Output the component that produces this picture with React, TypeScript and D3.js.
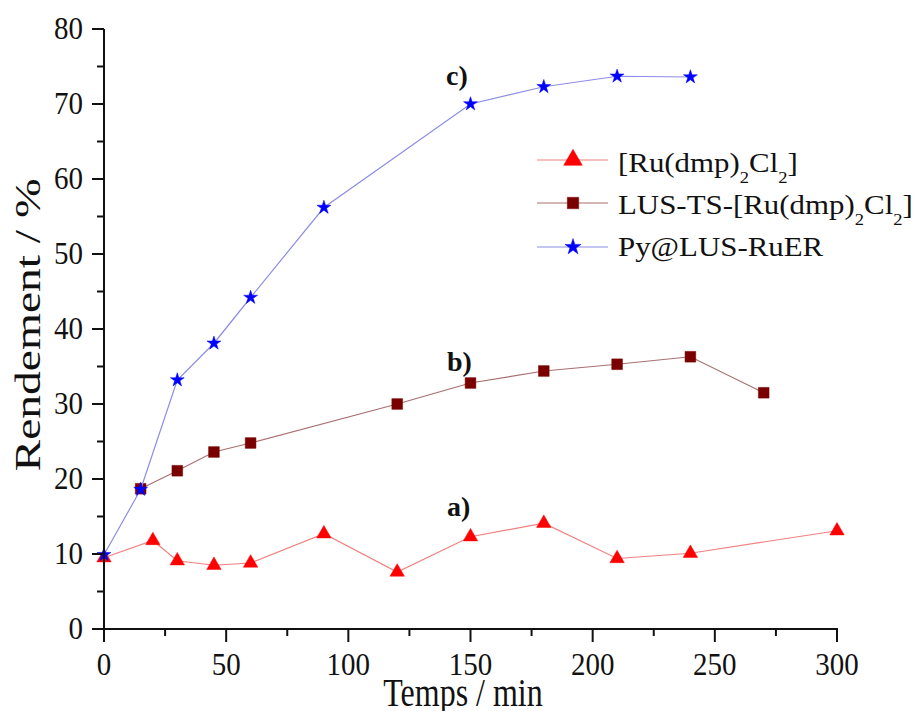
import React from "react";
import * as d3 from "d3";

const timesA = [0, 20, 30, 45, 60, 90, 120, 150, 180, 210, 240, 300];
const yieldA = [9.5, 11.8, 9.1, 8.5, 8.8, 12.7, 7.6, 12.3, 14.1, 9.4, 10.1, 13.1];
const timesB = [15, 30, 45, 60, 120, 150, 180, 210, 240, 270];
const yieldB = [18.7, 21.1, 23.6, 24.8, 30.0, 32.8, 34.4, 35.3, 36.3, 31.5];
const timesC = [0, 15, 30, 45, 60, 90, 150, 180, 210, 240];
const yieldC = [9.9, 18.6, 33.2, 38.1, 44.2, 56.2, 70.0, 72.3, 73.7, 73.6];
const xTicks = [0, 50, 100, 150, 200, 250, 300];
const yTicks = [0, 10, 20, 30, 40, 50, 60, 70, 80];
const seriesNames = ["a", "b", "c"];
const annotations = ["a)", "b)", "c)"];

const W = 917, H = 711;
const FONT = "'Liberation Serif', 'Times New Roman', serif";

const x = d3.scaleLinear().domain([0, 300]).range([104, 837]);
const y = d3.scaleLinear().domain([0, 80]).range([629, 29]);

const styles = {
  a: { line: "#f08080", fill: "#ff0000", sym: d3.symbolTriangle, size: 90 },
  b: { line: "#a87070", fill: "#7a0000", sym: d3.symbolSquare, size: 115 },
  c: { line: "#8c8ce6", fill: "#0000ff", sym: d3.symbolStar, size: 60 },
};

function ST({ x: tx, y: ty, sx = 1, sy = 1, children, ...rest }: any) {
  return (
    <text transform={`translate(${tx},${ty}) scale(${sx},${sy})`} fontFamily={FONT} {...rest}>
      {children}
    </text>
  );
}

export default function App() {
  const data: Record<string, { t: number[]; v: number[] }> = {
    a: { t: timesA, v: yieldA },
    b: { t: timesB, v: yieldB },
    c: { t: timesC, v: yieldC },
  };
  const line = d3.line<[number, number]>().x((d) => x(d[0])).y((d) => y(d[1]));
  const minorY = d3.range(5, 80, 10);
  const minorX = d3.range(25, 300, 50);

  const legendRows = [
    { key: "a", cy: 160 },
    { key: "b", cy: 203 },
    { key: "c", cy: 247 },
  ];

  return (
    <svg width={W} height={H} style={{ position: "absolute", left: 0, top: 0, background: "#fff" }}>
      <rect width={W} height={H} fill="#fff" />
      {seriesNames.map((k) => {
        const s = (styles as any)[k];
        const pts: [number, number][] = data[k].t.map((t, i) => [t, data[k].v[i]]);
        return (
          <g key={k}>
            <path d={line(pts) || ""} fill="none" stroke={s.line} strokeWidth={1.2} />
            {pts.map((p, i) => (
              <path
                key={i}
                d={d3.symbol(s.sym, s.size)() || ""}
                transform={`translate(${x(p[0])},${y(p[1])})`}
                fill={s.fill}
                stroke={s.fill}
                strokeWidth={0.5}
              />
            ))}
          </g>
        );
      })}

      <line x1={x(0)} x2={x(0)} y1={y(0) + 1} y2={y(80)} stroke="#111" strokeWidth={2} />
      <line x1={x(0) - 1} x2={x(300) + 1} y1={y(0)} y2={y(0)} stroke="#111" strokeWidth={2} />
      {yTicks.map((t) => (
        <g key={"yt" + t}>
          <line x1={x(0) - 12} x2={x(0)} y1={y(t)} y2={y(t)} stroke="#111" strokeWidth={2} />
          <ST x={83} y={y(t) + 10} sx={1} sy={1.1} fontSize={29} textAnchor="end" fill="#111">
            {t}
          </ST>
        </g>
      ))}
      {minorY.map((t) => (
        <line key={"ym" + t} x1={x(0) - 7} x2={x(0)} y1={y(t)} y2={y(t)} stroke="#111" strokeWidth={2} />
      ))}
      {xTicks.map((t) => (
        <g key={"xt" + t}>
          <line x1={x(t)} x2={x(t)} y1={y(0)} y2={y(0) + 13} stroke="#111" strokeWidth={2} />
          <ST x={x(t)} y={675} sx={1} sy={1.12} fontSize={29} textAnchor="middle" fill="#111">
            {t}
          </ST>
        </g>
      ))}
      {minorX.map((t) => (
        <line key={"xm" + t} x1={x(t)} x2={x(t)} y1={y(0)} y2={y(0) + 7} stroke="#111" strokeWidth={2} />
      ))}

      <ST x={463} y={706} sx={1} sy={1.22} fontSize={32} textAnchor="middle" fill="#111">
        Temps / min
      </ST>
      <text
        transform={`translate(40,325) rotate(-90)`}
        fontFamily={FONT}
        fontSize={35}
        textAnchor="middle"
        textLength={293}
        lengthAdjust="spacingAndGlyphs"
        fill="#111"
      >
        Rendement / %
      </text>

      <ST x={447} y={516} fontSize={28} fontWeight="bold" fill="#111">{annotations[0]}</ST>
      <ST x={447} y={371} fontSize={28} fontWeight="bold" fill="#111">{annotations[1]}</ST>
      <ST x={446} y={85} fontSize={28} fontWeight="bold" fill="#111">{annotations[2]}</ST>

      {legendRows.map((r) => {
        const s = (styles as any)[r.key];
        return (
          <g key={"lg" + r.key}>
            <line x1={537} x2={608} y1={r.cy} y2={r.cy} stroke={s.line} strokeWidth={1.2} />
            <path
              d={d3.symbol(s.sym, r.key === "a" ? 150 : r.key === "b" ? 130 : 80)() || ""}
              transform={`translate(573,${r.cy})`}
              fill={s.fill}
              stroke={s.fill}
              strokeWidth={0.5}
            />
          </g>
        );
      })}
      <ST x={618} y={172} sx={1.03} sy={0.92} fontSize={30} fill="#111">
        [Ru(dmp)<tspan fontSize={18} dy={12}>2</tspan><tspan dy={-12}>Cl</tspan>
        <tspan fontSize={18} dy={12}>2</tspan><tspan dy={-12}>]</tspan>
      </ST>
      <ST x={618} y={214} sx={1.03} sy={0.92} fontSize={30} fill="#111">
        LUS-TS-[Ru(dmp)<tspan fontSize={18} dy={12}>2</tspan><tspan dy={-12}>Cl</tspan>
        <tspan fontSize={18} dy={12}>2</tspan><tspan dy={-12}>]</tspan>
      </ST>
      <ST x={618} y={256} sx={1.03} sy={0.92} fontSize={30} fill="#111">
        Py@LUS-RuER
      </ST>
    </svg>
  );
}
